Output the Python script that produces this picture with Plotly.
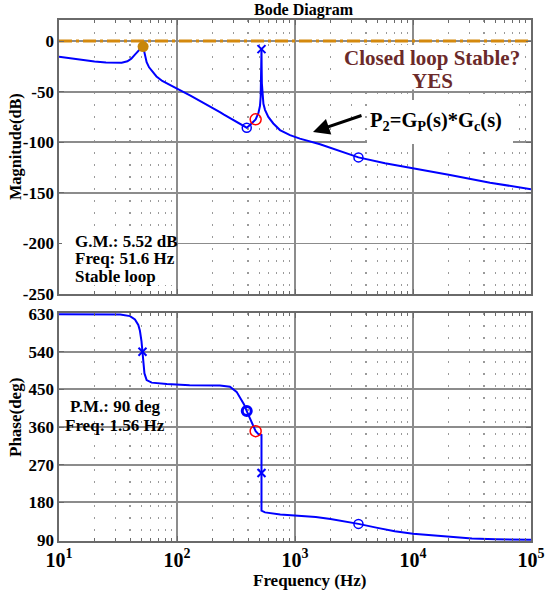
import plotly.graph_objects as go

# ---------------- data ----------------
mag_freq = [10, 13, 16, 20, 25, 30, 34, 38, 41, 44, 47, 50, 51.6, 52.5, 53.6, 55.3, 58, 63, 67, 75,
            85, 100, 130, 156, 200, 231, 250, 300, 350, 390, 420, 445, 464, 490, 505, 512, 516, 518.5, 520, 521.5,
            524, 530, 540, 557, 594, 655, 746, 907, 1100, 1630, 2400, 3450, 5800, 10000, 20600, 45000, 100000]
mag_db = [-15.5, -17.5, -19, -20.3, -21.3, -21.8, -21.5, -20, -17.5, -13.5, -9.5, -6.5, -5.5, -9, -15.5, -21, -26, -31.5, -35, -39.5,
          -43, -47, -54, -59, -66, -70.3, -72.8, -78, -82.5, -85.7, -82.5, -80, -77.4, -71, -64, -55, -42, -25, -8, -25,
          -42, -55, -62, -68, -75, -81.5, -88, -93, -96.5, -102, -108.5, -115, -120.8, -125.5, -132.4, -140, -146.5]

ph_freq = [10, 20, 33, 40, 44, 47, 48.5, 50, 51, 52, 53, 55.3, 61, 82, 128, 231, 281, 320, 345, 370,
           390, 420, 445, 464, 490, 519, 520, 520, 532, 557, 750, 1000, 1500, 2000, 2700, 3450, 5000, 7000, 10000, 20000,
           31600, 50000, 100000]
ph_deg = [629.5, 629.3, 629, 625, 617, 604, 590, 565, 540, 508, 488, 472, 466, 463, 460, 459, 456, 444, 430, 414,
          398, 376, 362, 350, 343, 341, 341, 160, 158, 156, 151, 148.5, 145, 140, 134, 128.5, 119, 111, 105, 97,
          93.5, 92, 90.5]

unity_freq = [10, 100000]
unity_db = [0, 0]

gm_freq = [51.6]
gm_db = [-5.5]
mag_pole_freq = [520]
mag_pole_db = [-8]
mag_zero_freq = [390, 3450]
mag_zero_db = [-85.7, -115]
mag_czero_freq = [464]
mag_czero_db = [-77.4]

ph_pole_freq = [51, 520]
ph_pole_deg = [540, 250]
ph_zero1_freq = [390]
ph_zero1_deg = [398]
ph_zero2_freq = [3450]
ph_zero2_deg = [128.5]
ph_czero_freq = [464]
ph_czero_deg = [350]

x_tick_vals = [10, 100, 1000, 10000, 100000]
x_tick_text = ["10<sup>1</sup>", "10<sup>2</sup>", "10<sup>3</sup>", "10<sup>4</sup>", "10<sup>5</sup>"]
mag_tick_vals = [-250, -200, -150, -100, -50, 0]
mag_tick_text = ["-250", "-200", "-150", "-100", "-50", "0"]
ph_tick_vals = [90, 180, 270, 360, 450, 540, 630]
ph_tick_text = ["90", "180", "270", "360", "450", "540", "630"]

# ---------------- styling ----------------
FONT = "Liberation Serif"
BLUE = "#0000FF"
RED = "#FF0000"
ORANGE = "#D4890E"
GRID = "#8c8c8c"
AXC = "#6a6a6a"

W, H = 545, 598
PL, PT, PW, PH = 59, 20, 472, 521   # plot area in window pixels
L, T = PL, PT
R, B = W - L - PW, H - T - PH


def px(xp):
    return (xp - PL) / PW


def py(yp):
    return (PT + PH - yp) / PH


minor_vals = [m * 10 ** d for d in range(1, 5) for m in range(2, 10)]

fig = go.Figure()

# magnitude
fig.add_trace(go.Scatter(x=unity_freq, y=unity_db, mode="lines",
                         line=dict(color=ORANGE, width=3, dash="13px,4px,3px,4px"),
                         xaxis="x", yaxis="y", showlegend=False, hoverinfo="skip"))
fig.add_trace(go.Scatter(x=mag_freq, y=mag_db, mode="lines", line=dict(color=BLUE, width=2),
                         xaxis="x", yaxis="y", showlegend=False))
fig.add_trace(go.Scatter(x=gm_freq, y=gm_db, mode="markers",
                         marker=dict(symbol="circle", size=11, color="#C8860A"),
                         xaxis="x", yaxis="y", showlegend=False))
fig.add_trace(go.Scatter(x=mag_pole_freq, y=mag_pole_db, mode="markers",
                         marker=dict(symbol="x-thin", size=8, line=dict(color=BLUE, width=2)),
                         xaxis="x", yaxis="y", showlegend=False))
fig.add_trace(go.Scatter(x=mag_zero_freq, y=mag_zero_db, mode="markers",
                         marker=dict(symbol="circle-open", size=9, color=BLUE, line=dict(width=1.5)),
                         xaxis="x", yaxis="y", showlegend=False))
fig.add_trace(go.Scatter(x=mag_czero_freq, y=mag_czero_db, mode="markers",
                         marker=dict(symbol="circle-open", size=11, color=RED, line=dict(width=1.5)),
                         xaxis="x", yaxis="y", showlegend=False))

# phase
fig.add_trace(go.Scatter(x=ph_freq, y=ph_deg, mode="lines", line=dict(color=BLUE, width=2),
                         xaxis="x2", yaxis="y2", showlegend=False))
fig.add_trace(go.Scatter(x=ph_pole_freq, y=ph_pole_deg, mode="markers",
                         marker=dict(symbol="x-thin", size=8, line=dict(color=BLUE, width=2)),
                         xaxis="x2", yaxis="y2", showlegend=False))
fig.add_trace(go.Scatter(x=ph_zero1_freq, y=ph_zero1_deg, mode="markers",
                         marker=dict(symbol="circle-open", size=9, color=BLUE, line=dict(width=3)),
                         xaxis="x2", yaxis="y2", showlegend=False))
fig.add_trace(go.Scatter(x=ph_zero2_freq, y=ph_zero2_deg, mode="markers",
                         marker=dict(symbol="circle-open", size=9, color=BLUE, line=dict(width=1.5)),
                         xaxis="x2", yaxis="y2", showlegend=False))
fig.add_trace(go.Scatter(x=ph_czero_freq, y=ph_czero_deg, mode="markers",
                         marker=dict(symbol="circle-open", size=11, color=RED, line=dict(width=1.5)),
                         xaxis="x2", yaxis="y2", showlegend=False))

xcommon = dict(type="log", range=[1, 5], showgrid=True, gridcolor=GRID, gridwidth=1.8,
               showline=True, linecolor=AXC, linewidth=1.6, mirror="allticks",
               ticks="inside", ticklen=5, tickcolor=AXC, zeroline=False, automargin=False,
               tickvals=x_tick_vals,
               minor=dict(tickvals=minor_vals, showgrid=True, gridcolor="#9a9a9a", gridwidth=1.3,
                          griddash="2px,10px", ticks="inside", ticklen=3, tickcolor=AXC))
ycommon = dict(showgrid=True, gridcolor=GRID, gridwidth=1.8, showline=True, linecolor=AXC,
               linewidth=1.6, mirror="allticks", ticks="inside", ticklen=5, tickcolor=AXC,
               zeroline=False, automargin=False,
               tickfont=dict(family=FONT, size=17, color="black", weight="bold"))

top_bottom = py(294)
bot_top = py(313)

fig.update_layout(
    width=W, height=H, margin=dict(l=L, r=R, t=T, b=B, autoexpand=False),
    paper_bgcolor="white", plot_bgcolor="white",
    font=dict(family=FONT, color="black"),
    hovermode=False,
    xaxis=dict(**xcommon, anchor="y", domain=[0, 1], showticklabels=False),
    xaxis2=dict(**xcommon, anchor="y2", domain=[0, 1], ticktext=x_tick_text,
                tickfont=dict(family=FONT, size=20, color="black", weight="bold")),
    yaxis=dict(**ycommon, anchor="x", domain=[top_bottom, 1], range=[-250, 20.75],
               tickvals=mag_tick_vals, ticktext=mag_tick_text),
    yaxis2=dict(**ycommon, anchor="x2", domain=[0, bot_top], range=[87.6, 632.4],
                tickvals=ph_tick_vals, ticktext=ph_tick_text),
)

# white boxes behind text (hide grid like the reference)
for (x0, x1, y0, y1) in [(343, 522, 45, 89.5), (367, 513, 100, 144), (62, 175, 231, 285)]:
    fig.add_shape(type="rect", xref="paper", yref="paper", x0=px(x0), x1=px(x1), y0=py(y1), y1=py(y0),
                  fillcolor="white", line=dict(width=0), layer="above")


def ann(text, x, y, size, color="black", xanchor="center", angle=0):
    fig.add_annotation(text=text, xref="paper", yref="paper", x=px(x), y=py(y), showarrow=False,
                       xanchor=xanchor, yanchor="middle", textangle=angle,
                       font=dict(family=FONT, size=size, color=color, weight="bold"))


ann("Bode Diagram", 304, 10, 16)
ann("Magnitude(dB)", 15, 147, 16.3, angle=-90)
ann("Phase(deg)", 15, 418, 17, angle=-90)
ann("Frequency (Hz)", 309, 580, 17)
ann("Closed loop Stable?", 432, 58, 21, color="#6B2A2A")
ann("YES", 432, 81, 21, color="#6B2A2A")
ann("P<sub>2</sub>=G<sub>P</sub>(s)*G<sub>c</sub>(s)", 368, 121, 20.5, xanchor="left")
ann("G.M.: 5.52 dB", 73, 241, 17, xanchor="left")
ann("Freq: 51.6 Hz", 73, 258.5, 17, xanchor="left")
ann("Stable loop", 73, 276, 17, xanchor="left")
ann("P.M.: 90 deg", 115, 406, 17)
ann("Freq: 1.56 Hz", 115, 425.5, 17)

# arrow
fig.add_annotation(text="", xref="paper", yref="paper", x=px(313), y=py(132),
                   ax=50, ay=-17, axref="pixel", ayref="pixel", showarrow=True,
                   arrowhead=2, arrowsize=1.1, arrowwidth=3, arrowcolor="black")

fig.write_html("out.html", config={"displayModeBar": False, "staticPlot": True},
               post_script="document.body.style.margin='0';document.body.style.padding='0';"
                           "document.body.style.overflow='hidden';")
